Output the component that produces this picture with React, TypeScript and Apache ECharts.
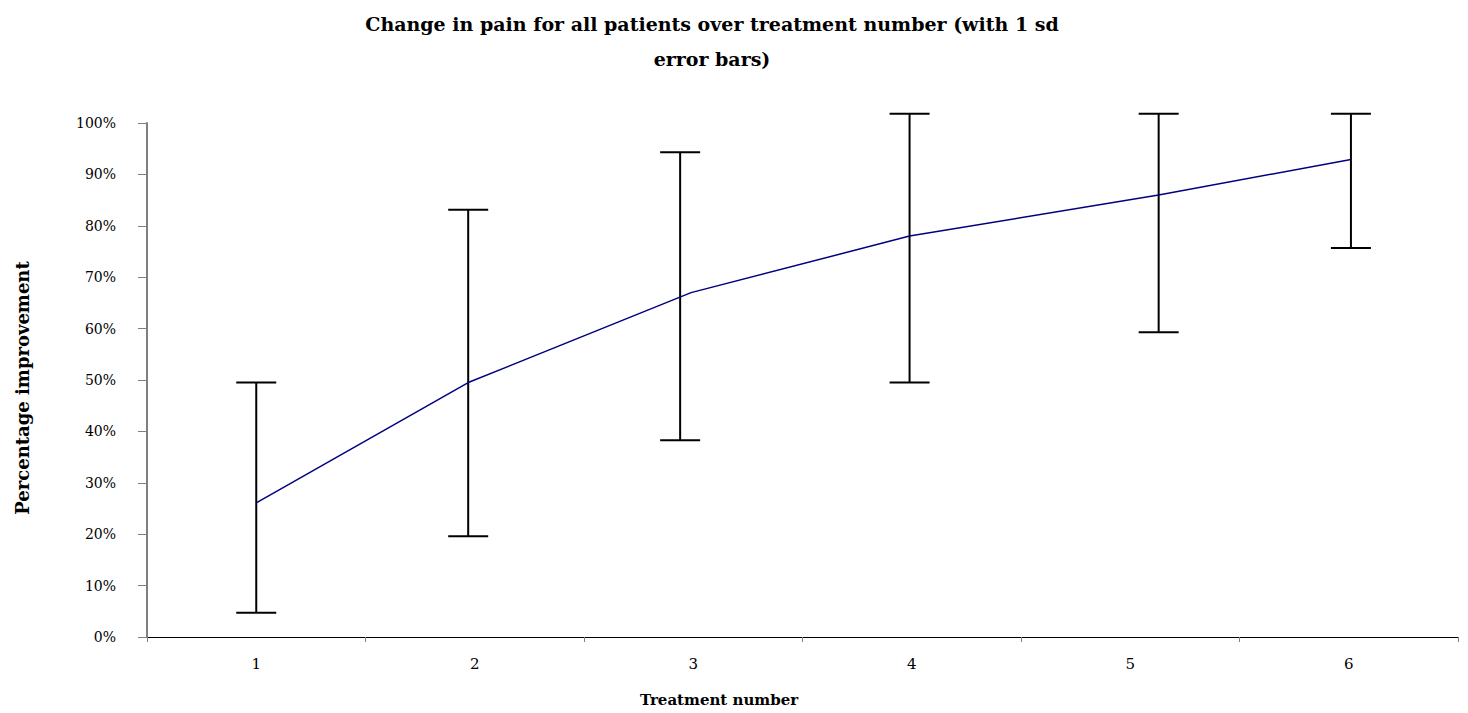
import React, { useEffect, useRef } from "react";
import * as echarts from "echarts";

// Treatment categories and tick labels
const treatments = ["1", "2", "3", "4", "5", "6"];
const yTicks = [0, 10, 20, 30, 40, 50, 60, 70, 80, 90, 100];

// Mean percentage improvement per treatment
const meanImprovement = [26.1, 49.5, 67.0, 78.0, 86.0, 92.9];
// Error bar ends (1 sd), as drawn (tops clipped at the plot edge)
const sdLow = [4.7, 19.6, 38.3, 49.5, 59.3, 75.7];
const sdHigh = [49.5, 83.1, 94.3, 101.8, 101.8, 101.8];
// Horizontal placement (treatment units)
const linePos = [1.0, 1.97, 2.99, 3.99, 5.13, 6.01];
const barPos = [1.0, 1.97, 2.94, 3.99, 5.13, 6.01];

const titleText = "Change in pain for all patients over treatment number (with 1 sd\nerror bars)";
const xName = "Treatment number";
const yName = "Percentage improvement";

const FONT = "'DejaVu Serif', 'Liberation Serif', serif";

export default function App() {
  const ref = useRef<HTMLDivElement>(null);

  useEffect(() => {
    if (!ref.current) return;
    const chart = echarts.init(ref.current, undefined, { renderer: "svg" });

    const errData = barPos.map((x, i) => [x, sdLow[i], sdHigh[i]]);
    const lineData = linePos.map((x, i) => [x, meanImprovement[i]]);

    chart.setOption({
      animation: false,
      backgroundColor: "#ffffff",
      grid: { left: 147, right: 10, top: 123, bottom: 76, containLabel: false },
      xAxis: [
        {
          type: "category",
          data: treatments,
          boundaryGap: true,
          axisLine: { show: true, lineStyle: { color: "#000000", width: 1 } },
          axisTick: { show: true, length: 5, lineStyle: { color: "#808080" } },
          axisLabel: { color: "#000000", fontFamily: FONT, fontSize: 15, margin: 19 },
          splitLine: { show: false },
        },
        {
          type: "value",
          min: 0.5,
          max: 6.5,
          show: false,
          splitLine: { show: false },
        },
      ],
      yAxis: {
        type: "value",
        min: 0,
        max: 100,
        interval: 10,
        axisLine: { show: true, lineStyle: { color: "#808080", width: 2 } },
        axisTick: { show: true, length: 9, lineStyle: { color: "#808080" } },
        axisLabel: {
          color: "#000000",
          fontFamily: FONT,
          fontSize: 14,
          margin: 31,
          formatter: (v: number) => (yTicks.includes(v) ? v + "%" : ""),
        },
        splitLine: { show: false },
      },
      graphic: [
        {
          type: "text",
          x: 712,
          y: 6,
          style: {
            text: titleText,
            fontFamily: FONT,
            fontWeight: "bold",
            fontSize: 19,
            lineHeight: 35,
            fill: "#000000",
            textAlign: "center",
            textVerticalAlign: "top",
          },
        },
        {
          type: "text",
          x: 719,
          y: 700,
          style: {
            text: xName,
            fontFamily: FONT,
            fontWeight: "bold",
            fontSize: 15,
            fill: "#000000",
            textAlign: "center",
            textVerticalAlign: "middle",
          },
        },
        {
          type: "text",
          x: 22,
          y: 388,
          rotation: Math.PI / 2,
          style: {
            text: yName,
            fontFamily: FONT,
            fontWeight: "bold",
            fontSize: 18,
            fill: "#000000",
            textAlign: "center",
            textVerticalAlign: "middle",
          },
        },
      ],
      series: [
        {
          type: "custom",
          name: "1 sd",
          xAxisIndex: 1,
          yAxisIndex: 0,
          clip: false,
          z: 2,
          encode: { x: 0, y: [1, 2] },
          data: errData,
          renderItem: (params: any, api: any) => {
            const x = api.value(0);
            const lo = api.coord([x, api.value(1)]);
            const hi = api.coord([x, api.value(2)]);
            const half = 20;
            const style = { stroke: "#000000", lineWidth: 2 };
            return {
              type: "group",
              children: [
                { type: "line", shape: { x1: lo[0], y1: lo[1], x2: hi[0], y2: hi[1] }, style },
                { type: "line", shape: { x1: lo[0] - half, y1: lo[1], x2: lo[0] + half, y2: lo[1] }, style },
                { type: "line", shape: { x1: hi[0] - half, y1: hi[1], x2: hi[0] + half, y2: hi[1] }, style },
              ],
            };
          },
        },
        {
          type: "line",
          name: "Mean improvement",
          xAxisIndex: 1,
          yAxisIndex: 0,
          data: lineData,
          symbol: "none",
          z: 3,
          lineStyle: { color: "#000080", width: 1.5 },
        },
      ],
    });

    return () => chart.dispose();
  }, []);

  return (
    <div
      ref={ref}
      style={{ position: "fixed", left: 0, top: 0, width: 1468, height: 713, background: "#fff" }}
    />
  );
}
